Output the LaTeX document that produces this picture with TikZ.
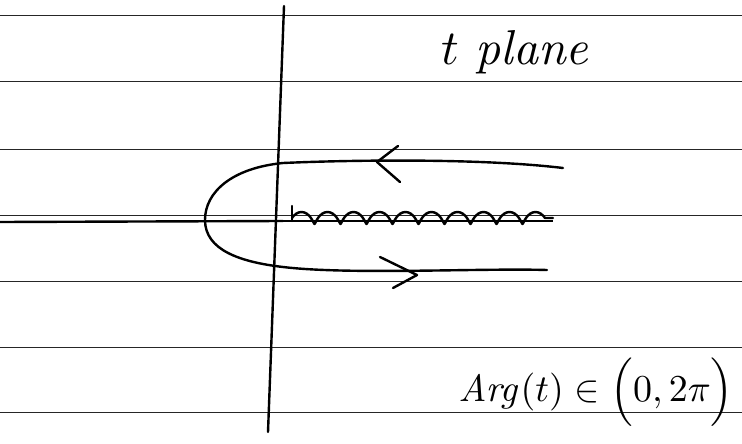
\documentclass[tikz,border=0pt]{standalone}
\usepackage{amsmath,amssymb}
\usepackage{tikz}
\usetikzlibrary{decorations.pathmorphing}

\begin{document}
\begin{tikzpicture}[x=1pt,y=-1pt]
    \tikzset{pen/.style={line width=2.4pt,line cap=round,line join=round},
      rule/.style={line width=1pt,black!85}}
    \useasboundingbox (0,0) rectangle (742,444);
    % ruled paper
    \foreach \yy in {16,82,149,215,281,347,412}
      \draw[rule] (0,\yy)--(742,\yy);
    % axes
    \draw[pen] (284,6)--(268,432);
    \draw[pen] (0,222)--(283,221);
    \draw[line width=1.4pt] (283,221)--(553,221);
    % branch cut
    \draw[pen] (292,206)--(292,221);
    \draw[pen,decorate,decoration={coil,amplitude=6pt,segment length=26pt,aspect=0.5}] (292,218)--(553,218);
    % contour
    \draw[pen] (563,168) .. controls (480,158) and (350,160) .. (283,163)
       .. controls (232,168) and (205,192) .. (205,220)
       .. controls (205,250) and (240,262) .. (283,267)
       .. controls (350,275) and (480,268) .. (547,270);
    \draw[pen] (398,146)--(377,162)--(400,182);
    \draw[pen] (380,257)--(417,275)--(393,288);
    % labels
    \node[scale=4.9] (plane) at (515,52) {$t$ \textit{plane}};
    \node[scale=3.8] (argt) at (596,392) {$\mathit{Arg}(t)\in\Bigl(0,2\pi\Bigr)$};
  \end{tikzpicture}
\end{document}
